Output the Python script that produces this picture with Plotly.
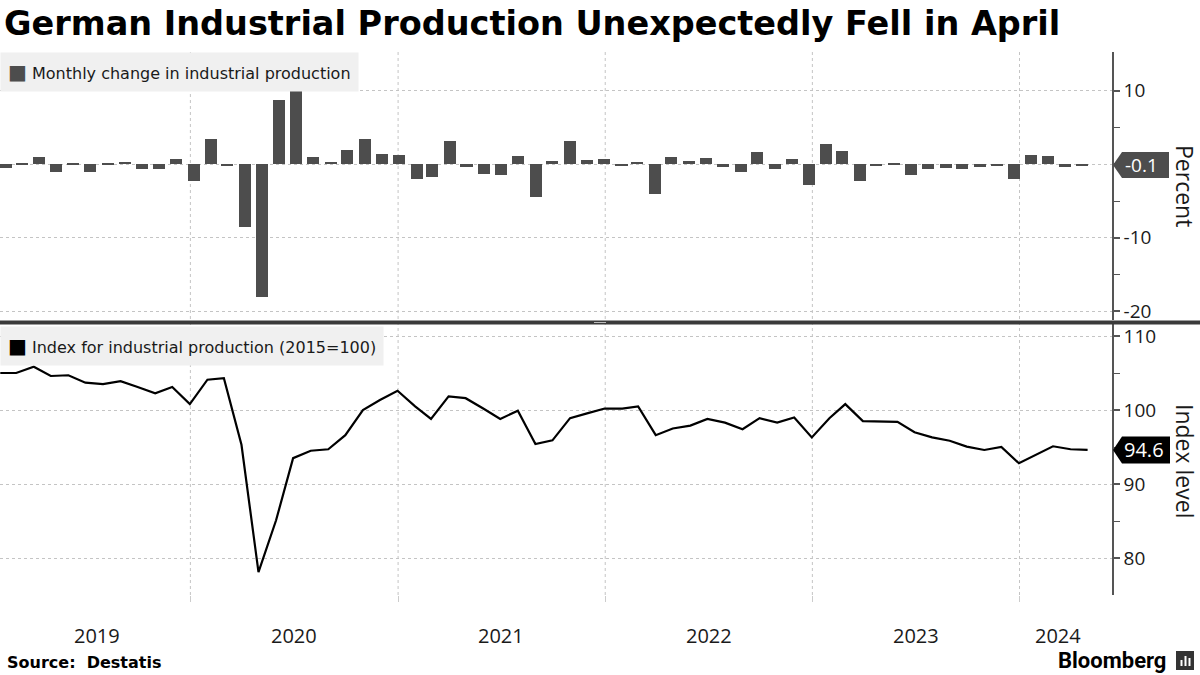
import pandas as pd
import plotly.graph_objects as go

# ---------------- data ----------------
months = pd.date_range("2019-01-31", periods=64, freq=pd.offsets.MonthEnd())

monthly_change = [
    -0.5, 0.1, 1.0, -1.1, 0.1, -1.0, 0.1, 0.3, -0.7, -0.7, 0.7, -2.2,      # 2019
    3.4, -0.1, -8.5, -18.1, 8.75, 10.0, 1.0, 0.3, 2.0, 3.4, 1.4, 1.3,      # 2020
    -1.95, -1.7, 3.2, -0.3, -1.3, -1.4, 1.1, -4.4, 0.45, 3.2, 0.6, 0.7,    # 2021
    -0.1, 0.3, -4.0, 1.0, 0.45, 0.85, -0.3, -1.0, 1.7, -0.6, 0.7, -2.8,    # 2022
    2.8, 1.8, -2.2, -0.1, 0.1, -1.4, -0.6, -0.45, -0.7, -0.3, -0.1, -1.95, # 2023
    1.3, 1.1, -0.4, -0.1,                                                # 2024
]

index_level = [
    105.0, 105.0, 105.85, 104.6, 104.7, 103.7, 103.5, 103.9, 103.1, 102.25, 103.1, 100.8,
    104.1, 104.3, 95.3, 78.1, 85.1, 93.5, 94.5, 94.7, 96.6, 100.0, 101.35, 102.6,
    100.5, 98.8, 101.85, 101.6, 100.2, 98.8, 99.9, 95.4, 95.9, 98.9, 99.55, 100.2,
    100.2, 100.5, 96.6, 97.5, 97.9, 98.8, 98.3, 97.4, 98.9, 98.3, 99.0, 96.3,
    98.9, 100.8, 98.5, 98.5, 98.4, 97.0, 96.3, 95.85, 95.05, 94.6, 95.0, 92.8,
    94.0, 95.1, 94.7, 94.6,
]

year_labels = ["2019", "2020", "2021", "2022", "2023", "2024"]
year_label_dates = ["2019-07-20", "2020-07-02", "2021-07-02", "2022-07-02", "2023-07-02", "2024-03-09"]
year_bounds = ["2020-01-01", "2021-01-01", "2022-01-01", "2023-01-01", "2024-01-01"]

top_ticks = [-20, -10, 0, 10]
top_ticktext = ["-20", "-10", "", "10"]
top_minor = [-15, -5, 5]
bot_ticks = [80, 90, 100, 110]
bot_minor = [85, 95, 105]

title = "German Industrial Production Unexpectedly Fell in April"
legend_top = "Monthly change in industrial production"
legend_bot = "Index for industrial production (2015=100)"
last_change = monthly_change[-1]
last_level = index_level[-1]

# ---------------- styling ----------------
BAR = "#4d4d4d"
GRID = "#c4c4c4"
AXIS = "#555555"
TXT = "#1a1a1a"
TICKFONT = dict(family="Open Sans, DejaVu Sans, sans-serif", size=19, color=TXT)

TOP_DOM = [0.5064, 1.0]
BOT_DOM = [0.0, 0.499]

fig = go.Figure()

fig.add_trace(go.Bar(
    x=months, y=monthly_change, xaxis="x2", yaxis="y2",
    marker=dict(color=BAR, line=dict(width=0)),
    width=1.85e9, hoverinfo="x+y", showlegend=False,
))

fig.add_trace(go.Scatter(
    x=months, y=index_level, xaxis="x", yaxis="y", mode="lines",
    line=dict(color="#000000", width=2.2), showlegend=False,
))

fig.update_layout(
    width=1200, height=675,
    margin=dict(l=0, r=88, t=52, b=80),
    paper_bgcolor="white", plot_bgcolor="white",
    bargap=0,
    xaxis=dict(
        type="date", domain=[0, 1], anchor="y",
        range=["2019-01-30 12:00", "2024-06-12"],
        showgrid=False, zeroline=False, showline=False,
        tickvals=year_bounds, showticklabels=False,
        ticks="outside", ticklen=6, tickcolor="#cccccc", tickwidth=1,
        fixedrange=True,
    ),
    xaxis2=dict(
        type="date", domain=[0, 1], anchor="y2",
        range=["2019-01-20 08:00", "2024-06-22 10:00"],
        showgrid=False, zeroline=False, showline=False, showticklabels=False,
        ticks="", fixedrange=True,
    ),
    yaxis=dict(
        domain=BOT_DOM, anchor="x", side="right",
        range=[75.0, 111.62],
        tickvals=bot_ticks, tickfont=TICKFONT,
        showgrid=True, gridcolor=GRID, griddash="dot", gridwidth=1,
        zeroline=False,
        showline=True, linecolor=AXIS, linewidth=1.5,
        ticks="outside", ticklen=6, tickcolor=AXIS, tickwidth=1.5,
        minor=dict(tickvals=bot_minor, ticks="outside", ticklen=6,
                   tickcolor=AXIS, tickwidth=1, showgrid=False),
    ),
    yaxis2=dict(
        domain=TOP_DOM, anchor="x2", side="right",
        range=[-21.18, 15.28],
        tickvals=top_ticks, ticktext=top_ticktext, tickfont=TICKFONT,
        showgrid=True, gridcolor=GRID, griddash="dot", gridwidth=1,
        zeroline=False,
        showline=True, linecolor=AXIS, linewidth=1.5,
        ticks="outside", ticklen=6, tickcolor=AXIS, tickwidth=1.5,
        minor=dict(tickvals=top_minor, ticks="outside", ticklen=6,
                   tickcolor=AXIS, tickwidth=1, showgrid=False),
    ),
)

shapes = []
# vertical year gridlines spanning both panels
for d in year_bounds:
    shapes.append(dict(type="line", xref="x", yref="paper", x0=d, x1=d, y0=0, y1=1,
                       line=dict(color=GRID, width=1, dash="dot"), layer="below"))
# separator between panels
sep_y = (595 - 322.5) / 543
shapes.append(dict(type="line", xref="paper", yref="paper", x0=0, x1=1200 / 1112,
                   y0=sep_y, y1=sep_y, line=dict(color="#3a3a3a", width=4), layer="above"))
shapes.append(dict(type="line", xref="paper", yref="paper", x0=594 / 1112, x1=606 / 1112,
                   y0=sep_y, y1=sep_y, line=dict(color="#bbbbbb", width=1), layer="above"))
# value tags
shapes.append(dict(type="path", xref="paper", yref="y2", xsizemode="pixel", ysizemode="pixel",
                   xanchor=1, yanchor=last_change,
                   path="M1,0 L10,13 L57,13 L57,-13 L10,-13 Z",
                   fillcolor=BAR, line=dict(width=0), layer="above"))
shapes.append(dict(type="path", xref="paper", yref="y", xsizemode="pixel", ysizemode="pixel",
                   xanchor=1, yanchor=last_level,
                   path="M1,0 L10,13.5 L58,13.5 L58,-13.5 L10,-13.5 Z",
                   fillcolor="#000000", line=dict(width=0), layer="above"))
# Bloomberg icon
shapes.append(dict(type="rect", xref="paper", yref="paper",
                   x0=1176 / 1112, x1=1194 / 1112,
                   y0=(595 - 670) / 543, y1=(595 - 651) / 543,
                   fillcolor="#333333", line=dict(width=0)))
for bx, bh in [(1180.5, 6), (1184.5, 10), (1188.5, 8)]:
    shapes.append(dict(type="rect", xref="paper", yref="paper",
                       x0=bx / 1112, x1=(bx + 2) / 1112,
                       y0=(595 - 666) / 543, y1=(595 - 666 + bh) / 543,
                       fillcolor="white", line=dict(width=0)))
fig.update_layout(shapes=shapes)

ann = []
ann.append(dict(text=f"<b>{title}</b>", xref="paper", yref="paper",
                x=2 / 1112, y=(595 - 23) / 543, xanchor="left", yanchor="middle",
                showarrow=False, font=dict(family="DejaVu Sans", size=33.5, color="#000000")))
ann.append(dict(text=f"<span style='color:{BAR};font-size:20px'>■</span> {legend_top}",
                xref="paper", yref="paper", x=0, y=1, xanchor="left", yanchor="top",
                showarrow=False, bgcolor="#f0f0f0", borderpad=7,
                font=dict(family="DejaVu Sans", size=16, color=TXT)))
ann.append(dict(text=f"<span style='color:#000000;font-size:20px'>■</span> {legend_bot}",
                xref="paper", yref="paper", x=0, y=(595 - 326) / 543, xanchor="left", yanchor="top",
                showarrow=False, bgcolor="#f0f0f0", borderpad=7,
                font=dict(family="DejaVu Sans", size=16, color=TXT)))
ann.append(dict(text=f"{last_change:.1f}", xref="paper", yref="y2", x=1, y=last_change,
                xanchor="left", yanchor="middle", xshift=11, showarrow=False,
                font=dict(family="Open Sans, DejaVu Sans", size=19, color="white")))
ann.append(dict(text=f"{last_level:.1f}", xref="paper", yref="y", x=1, y=last_level,
                xanchor="left", yanchor="middle", xshift=10, showarrow=False,
                font=dict(family="Open Sans, DejaVu Sans", size=20, color="white")))
ann.append(dict(text="Percent", xref="paper", yref="paper", x=1185 / 1112, y=(595 - 186) / 543,
                xanchor="center", yanchor="middle", textangle=90, showarrow=False,
                font=dict(family="Open Sans, DejaVu Sans", size=23, color=TXT)))
ann.append(dict(text="Index level", xref="paper", yref="paper", x=1185 / 1112, y=(595 - 461) / 543,
                xanchor="center", yanchor="middle", textangle=90, showarrow=False,
                font=dict(family="Open Sans, DejaVu Sans", size=23, color=TXT)))
for lab, d in zip(year_labels, year_label_dates):
    ann.append(dict(text=lab, xref="x", yref="paper", x=d, y=(595 - 635) / 543,
                    xanchor="center", yanchor="middle", showarrow=False,
                    font=dict(family="Open Sans, DejaVu Sans", size=20, color=TXT)))
ann.append(dict(text="<b>Source:  Destatis</b>", xref="paper", yref="paper",
                x=5 / 1112, y=(595 - 662) / 543, xanchor="left", yanchor="middle",
                showarrow=False, font=dict(family="DejaVu Sans", size=16, color="#000000")))
ann.append(dict(text="<b>Bloomberg</b>", xref="paper", yref="paper",
                x=1168 / 1112, y=(595 - 660) / 543, xanchor="right", yanchor="middle",
                showarrow=False, font=dict(family="Roboto, DejaVu Sans", size=22, color="#000000")))
fig.update_layout(annotations=ann)

fig.write_html(
    "out.html",
    config={"displayModeBar": False, "staticPlot": False},
    post_script="document.body.style.margin='0px';document.body.style.overflow='hidden';",
)
